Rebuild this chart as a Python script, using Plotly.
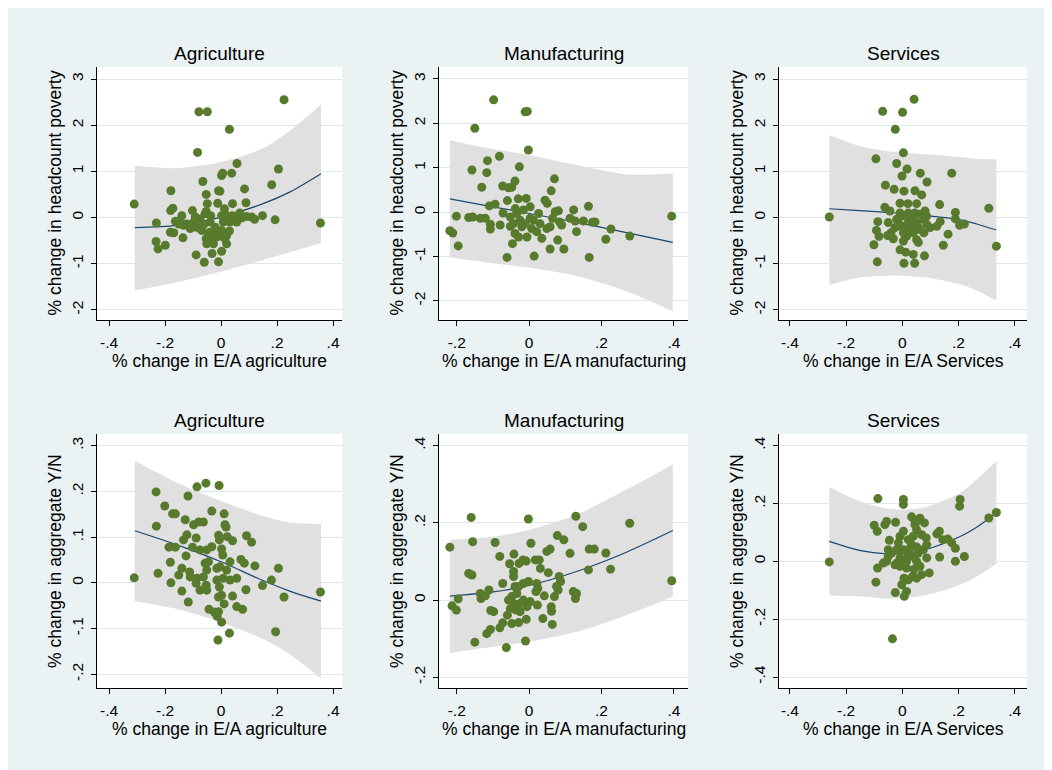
import plotly.graph_objects as go

# ---------------- data ----------------
agr_pov_x = [-0.310, 0.225, -0.079, -0.049, 0.030, -0.084, 0.057, 0.205, 0.006, 0.002, 0.038, -0.065, 0.181,
             -0.179, -0.009, -0.004, 0.084, -0.053, -0.049, -0.012, 0.041, 0.089, -0.180, -0.172, -0.102, -0.053,
             0.012, -0.140, -0.231, 0.193, 0.148, 0.120, 0.355, 0.067, 0.091, -0.163, -0.151, -0.181, -0.169,
             -0.136, -0.232, -0.225, -0.199, -0.089, -0.060, -0.032, -0.009, 0.002, 0.020, -0.051, -0.027, -0.045,
             -0.013, 0.014, 0.030, -0.110, -0.087, -0.063, -0.122, -0.098, -0.075, -0.039, -0.021, 0.002, -0.009,
             0.008, 0.020, 0.032, 0.044, 0.056, 0.073, 0.002, 0.014, -0.057, -0.037, -0.134, -0.146, -0.092,
             -0.069, -0.039, -0.021, 0.020, 0.040, 0.109, -0.053, -0.039]
agr_pov_y = [0.29, 2.55, 2.29, 2.29, 1.91, 1.41, 1.17, 1.05, 0.96, 0.91, 0.96, 0.78, 0.71,
             0.58, 0.58, 0.57, 0.62, 0.50, 0.30, 0.31, 0.30, 0.32, 0.15, 0.20, 0.15, 0.13,
             0.19, 0.04, -0.12, -0.05, 0.04, -0.04, -0.12, 0.10, 0.02, -0.08, -0.14, -0.32, -0.33,
             -0.44, -0.52, -0.68, -0.60, -0.81, -0.97, -0.78, -0.96, -0.73, -0.57, -0.57, -0.57, -0.39,
             -0.42, -0.46, -0.29, -0.24, -0.21, -0.17, -0.14, -0.10, -0.03, -0.10, -0.21, -0.28, -0.32,
             -0.10, -0.01, -0.10, -0.03, -0.10, -0.01, 0.04, 0.08, 0.08, 0.04, -0.17, -0.06, 0.01,
             -0.28, -0.32, -0.39, -0.39, 0.04, 0.01, -0.46, -0.50]

man_pov_x = [-0.098, -0.150, -0.011, -0.005, -0.002, -0.082, -0.115, -0.158, -0.117, -0.027, 0.070, -0.131,
             -0.073, -0.057, -0.048, -0.039, 0.061, -0.219, -0.211, -0.196, -0.201, -0.167, -0.156, -0.135,
             -0.121, -0.107, -0.107, -0.080, -0.110, -0.094, -0.060, -0.030, -0.008, -0.046, -0.061, 0.014,
             0.058, 0.096, 0.079, 0.166, 0.212, 0.226, 0.278, 0.394, 0.164, 0.123, 0.081, 0.044, 0.050,
             0.049, 0.065, 0.090, 0.084, 0.113, 0.127, 0.131, 0.150, 0.175, 0.182, 0.026, 0.030, 0.021,
             0.035, 0.007, -0.006, -0.029, -0.020, -0.043, -0.052, -0.034, -0.016, 0.003, 0.003, -0.025,
             -0.011, -0.038, -0.072, -0.052, -0.039, 0.012, 0.058, 0.072]
man_pov_y = [2.53, 1.89, 2.26, 2.27, 1.40, 1.26, 1.16, 0.95, 0.89, 1.02, 0.75, 0.56,
             0.59, 0.55, 0.56, 0.70, 0.48, -0.42, -0.47, -0.76, -0.09, -0.12, -0.11, -0.14,
             -0.14, -0.27, -0.38, -0.29, 0.14, 0.18, 0.26, 0.30, 0.31, -0.71, -1.02, -0.99,
             -0.83, -0.83, -0.63, -1.02, -0.61, -0.38, -0.54, -0.09, 0.13, 0.05, 0.03, 0.27, 0.20,
             -0.37, -0.14, -0.29, -0.22, -0.14, -0.20, -0.44, -0.20, -0.23, -0.22, -0.03, -0.26, -0.44,
             -0.59, -0.37, -0.56, -0.56, -0.33, -0.26, -0.11, -0.03, 0.05, 0.12, -0.14, -0.18,
             -0.26, 0.08, -0.02, -0.32, -0.48, -0.18, -0.33, 0.01]

ser_pov_x = [-0.260, 0.042, -0.070, 0.001, -0.025, 0.004, -0.094, -0.020, 0.017, -0.001, 0.064, 0.176, 0.088,
             -0.060, -0.029, 0.006, 0.045, 0.069, -0.008, 0.020, 0.051, 0.133, 0.308, -0.062, -0.044, 0.189,
             0.189, 0.135, 0.204, 0.221, 0.163, 0.146, 0.335, -0.087, -0.050, -0.092, -0.083, -0.101, -0.089,
             -0.052, -0.040, -0.032, -0.008, 0.012, 0.039, 0.006, 0.044, 0.079, 0.057, 0.051, 0.004, 0.015,
             0.081, -0.008, 0.004, 0.021, 0.039, 0.063, 0.075, 0.087, 0.099, 0.123, -0.014, -0.002, 0.015,
             0.033, 0.051, 0.063, 0.077, 0.039, 0.021, -0.026, 0.004, 0.027, 0.045, -0.020, 0.054, 0.087]
ser_pov_y = [0.01, 2.56, 2.30, 2.28, 1.91, 1.40, 1.27, 1.17, 1.05, 0.90, 0.96, 0.96, 0.77,
             0.70, 0.61, 0.57, 0.58, 0.49, 0.31, 0.30, 0.30, 0.28, 0.20, 0.22, 0.14, 0.11,
             -0.03, -0.09, -0.17, -0.14, -0.36, -0.60, -0.62, -0.09, -0.11, -0.28, -0.41, -0.59, -0.96,
             -0.39, -0.33, -0.46, -0.70, -0.75, -0.80, -0.99, -0.99, -0.83, -0.54, -0.48, -0.51, -0.41,
             0.14, 0.10, 0.03, 0.10, -0.01, 0.07, -0.04, -0.15, -0.22, -0.19, -0.12, -0.19, -0.26,
             -0.19, -0.12, -0.26, -0.33, -0.33, -0.12, -0.22, -0.33, -0.04, 0.10, -0.04, -0.19, 0.03]

agr_yn_x = [-0.310, 0.355, -0.232, -0.086, -0.054, -0.007, -0.118, -0.201, -0.173, -0.163, -0.033, 0.011,
            -0.231, -0.128, 0.014, 0.018, -0.098, -0.080, -0.063, -0.122, -0.134, -0.089, -0.009, -0.006,
            0.022, 0.041, 0.091, 0.109, -0.186, -0.163, -0.102, -0.075, -0.051, -0.033, 0.002, 0.006,
            -0.125, -0.181, -0.057, -0.045, 0.032, 0.071, 0.083, 0.121, 0.205, -0.140, -0.225, -0.151,
            -0.112, -0.110, -0.051, -0.015, -0.004, 0.020, -0.086, -0.063, -0.015, 0.008, 0.032, 0.056,
            -0.179, -0.140, -0.089, -0.075, -0.051, -0.053, -0.006, 0.002, -0.009, 0.041, 0.089, 0.148,
            0.180, 0.225, -0.117, 0.011, -0.043, -0.024, -0.009, -0.014, 0.002, 0.056, 0.077, 0.030,
            -0.011, 0.195]
agr_yn_y = [0.011, -0.020, 0.199, 0.210, 0.218, 0.213, 0.190, 0.168, 0.151, 0.151, 0.157, 0.151,
            0.124, 0.138, 0.127, 0.122, 0.127, 0.133, 0.133, 0.105, 0.094, 0.098, 0.104, 0.094,
            0.101, 0.092, 0.103, 0.089, 0.078, 0.078, 0.078, 0.072, 0.072, 0.079, 0.074, 0.061,
            0.059, 0.045, 0.043, 0.046, 0.046, 0.051, 0.043, 0.037, 0.032, 0.032, 0.021, 0.017,
            0.024, 0.013, 0.028, 0.032, 0.035, 0.028, 0.010, 0.013, 0.006, 0.010, 0.006, 0.010,
            0.000, -0.018, -0.001, -0.016, -0.016, -0.005, -0.009, -0.027, -0.031, -0.029, -0.015, -0.006,
            0.006, -0.031, -0.042, -0.046, -0.058, -0.064, -0.063, -0.073, -0.086, -0.052, -0.058, -0.110,
            -0.125, -0.107]

man_yn_x = [-0.219, -0.160, -0.156, -0.167, -0.158, -0.213, -0.201, -0.196, -0.150, -0.135, -0.133, -0.121,
            -0.111, -0.106, -0.098, -0.117, -0.107, -0.094, -0.081, -0.073, -0.081, -0.073, -0.063, -0.054,
            -0.042, -0.048, -0.029, -0.010, -0.008, -0.002, 0.005, -0.028, -0.017, -0.008, 0.017, 0.028,
            0.031, 0.053, 0.049, 0.058, 0.078, 0.096, 0.113, 0.129, 0.148, 0.166, 0.180, 0.164, 0.212,
            0.225, 0.278, 0.394, 0.083, 0.087, 0.076, 0.080, 0.070, 0.122, 0.131, 0.128, 0.061, 0.062,
            0.064, 0.038, 0.042, 0.021, 0.024, 0.019, 0.023, 0.003, -0.002, -0.016, -0.029, -0.039,
            -0.034, -0.048, -0.057, -0.043, -0.025, -0.016, -0.052, -0.036, -0.025, -0.006, -0.060,
            -0.043, -0.043]
man_yn_y = [0.137, 0.214, 0.151, 0.069, 0.065, -0.015, -0.026, 0.003, -0.109, 0.017, 0.004, 0.011,
            0.026, -0.027, -0.030, -0.087, -0.076, 0.149, 0.113, 0.043, -0.072, -0.059, -0.123, 0.094,
            0.119, -0.061, -0.058, -0.106, -0.050, 0.210, 0.147, 0.095, 0.104, 0.101, 0.104, 0.104,
            0.082, 0.071, 0.126, 0.132, 0.167, 0.156, 0.121, 0.217, 0.190, 0.132, 0.132, 0.078, 0.122,
            0.080, 0.199, 0.050, 0.061, 0.048, 0.035, 0.026, 0.009, 0.022, 0.017, 0.004, -0.017, -0.029,
            -0.063, -0.048, 0.011, 0.043, 0.030, 0.022, -0.013, -0.004, 0.048, 0.043, 0.035, 0.035,
            0.017, 0.009, 0.000, -0.009, -0.009, 0.000, -0.022, -0.026, -0.030, -0.017, -0.039,
            0.061, 0.074]

ser_yn_x = [-0.260, -0.035, -0.087, 0.004, 0.004, 0.206, 0.204, 0.308, 0.335, -0.100, -0.089, -0.056, -0.062,
            -0.024, -0.046, 0.033, 0.042, 0.063, 0.079, 0.123, 0.132, 0.144, 0.162, 0.176, 0.189, 0.133,
            0.189, 0.221, -0.088, -0.094, -0.025, 0.015, 0.007, -0.002, 0.006, 0.021, 0.037, 0.051, 0.069,
            0.096, 0.063, 0.042, 0.015, -0.008, -0.026, -0.056, -0.068, -0.050, -0.038, -0.050, -0.020,
            0.004, 0.027, -0.008, 0.004, 0.021, 0.039, 0.051, 0.069, 0.085, 0.087, 0.045, 0.051, -0.008,
            0.010, 0.021, 0.039, 0.057, 0.075, 0.087, 0.051, 0.033, -0.014, 0.015, -0.020, 0.051]
ser_yn_y = [-0.002, -0.268, 0.217, 0.214, 0.197, 0.214, 0.191, 0.150, 0.169, 0.125, 0.104, 0.138, 0.127,
            0.135, 0.073, 0.154, 0.145, 0.149, 0.133, 0.095, 0.104, 0.075, 0.077, 0.064, 0.045, 0.015,
            0.000, 0.017, -0.023, -0.072, -0.108, -0.104, -0.121, -0.081, -0.058, -0.064, -0.052, -0.058, -0.046,
            -0.040, -0.017, -0.027, -0.023, -0.017, -0.012, 0.000, -0.006, 0.017, 0.029, 0.040, 0.040,
            0.040, 0.046, 0.087, 0.104, 0.075, 0.087, 0.110, 0.092, 0.081, 0.058, 0.127, 0.139, 0.012,
            0.006, 0.023, 0.017, 0.029, 0.040, 0.012, 0.050, 0.058, 0.064, 0.000, -0.006, 0.000]

# quadratic fit lines and 95% bands
agr_fit_x = [-0.308, -0.157, 0.0, 0.15, 0.245, 0.357]
agr_pov_fit = [-0.22, -0.17, 0.01, 0.30, 0.55, 0.95]
agr_pov_hi = [1.12, 1.07, 1.20, 1.50, 1.88, 2.45]
agr_pov_lo = [-1.58, -1.40, -1.17, -0.92, -0.75, -0.55]
agr_yn_fit = [0.114, 0.083, 0.046, 0.005, -0.018, -0.040]
agr_yn_hi = [0.267, 0.219, 0.179, 0.146, 0.132, 0.129]
agr_yn_lo = [-0.040, -0.057, -0.086, -0.123, -0.156, -0.209]

man_fit_x = [-0.219, -0.1, 0.0, 0.131, 0.269, 0.397]
man_pov_fit = [0.30, 0.12, -0.03, -0.23, -0.46, -0.68]
man_pov_hi = [1.62, 1.42, 1.29, 1.06, 0.85, 0.87]
man_pov_lo = [-1.02, -1.15, -1.25, -1.44, -1.78, -2.23]
man_yn_fit = [0.010, 0.021, 0.038, 0.074, 0.124, 0.180]
man_yn_hi = [0.156, 0.164, 0.182, 0.221, 0.286, 0.351]
man_yn_lo = [-0.137, -0.121, -0.108, -0.082, -0.039, 0.009]

ser_fit_x = [-0.260, -0.152, -0.056, 0.0, 0.087, 0.206, 0.265, 0.335]
ser_pov_fit = [0.19, 0.15, 0.11, 0.09, 0.04, -0.05, -0.14, -0.27]
ser_pov_hi = [1.78, 1.55, 1.44, 1.41, 1.37, 1.31, 1.27, 1.26]
ser_pov_lo = [-1.46, -1.30, -1.26, -1.26, -1.30, -1.45, -1.58, -1.80]
ser_yn_fit = [0.069, 0.038, 0.026, 0.027, 0.042, 0.086, 0.118, 0.168]
ser_yn_hi = [0.257, 0.208, 0.183, 0.179, 0.188, 0.237, 0.283, 0.347]
ser_yn_lo = [-0.118, -0.121, -0.129, -0.127, -0.116, -0.081, -0.052, -0.008]

col_titles = ["Agriculture", "Manufacturing", "Services"]
x_titles = ["% change in E/A agriculture", "% change in E/A manufacturing", "% change in E/A Services"]
y_titles = ["% change in headcount poverty", "% change in aggregate Y/N"]

x_ticks = [[-0.4, -0.2, 0, 0.2, 0.4], [-0.2, 0, 0.2, 0.4], [-0.4, -0.2, 0, 0.2, 0.4]]
x_ticktext = [["-.4", "-.2", "0", ".2", ".4"], ["-.2", "0", ".2", ".4"], ["-.4", "-.2", "0", ".2", ".4"]]
y_ticks = [[-2, -1, 0, 1, 2, 3], [-2, -1, 0, 1, 2, 3], [-2, -1, 0, 1, 2, 3],
           [-0.2, -0.1, 0, 0.1, 0.2, 0.3], [-0.2, 0, 0.2, 0.4], [-0.4, -0.2, 0, 0.2, 0.4]]
y_ticktext = [["-2", "-1", "0", "1", "2", "3"], ["-2", "-1", "0", "1", "2", "3"], ["-2", "-1", "0", "1", "2", "3"],
              ["-.2", "-.1", "0", ".1", ".2", ".3"], ["-.2", "0", ".2", ".4"], ["-.4", "-.2", "0", ".2", ".4"]]

# ---------------- styling / layout ----------------
OX, OY = 8, 8                      # page body margin of the browser
W, H = 1052 - OX, 770 - OY
FONT = "Liberation Sans, Arial, sans-serif"
BG = "#EAF2F3"
GRID = "#DDE8EB"
MARK = "#587A2D"
LINE = "#1A476F"
BAND = "#E0E0E0"

col_px = [(97, 342), (439, 688), (779, 1027)]   # screen pixels
row_px = [(67, 320), (434, 688)]
x_ranges = [[-0.443, 0.432], [-0.249, 0.439], [-0.439, 0.444]]
y_ranges = [[-2.22, 3.26], [-2.43, 3.27], [-2.22, 3.26],
            [-0.230, 0.3256], [-0.2277, 0.430], [-0.438, 0.4405]]


def fx_(px):
    return (px - OX) / W


def fy_(py):
    return 1 - (py - OY) / H


panels = [
    (agr_pov_x, agr_pov_y, agr_fit_x, agr_pov_fit, agr_pov_lo, agr_pov_hi),
    (man_pov_x, man_pov_y, man_fit_x, man_pov_fit, man_pov_lo, man_pov_hi),
    (ser_pov_x, ser_pov_y, ser_fit_x, ser_pov_fit, ser_pov_lo, ser_pov_hi),
    (agr_yn_x, agr_yn_y, agr_fit_x, agr_yn_fit, agr_yn_lo, agr_yn_hi),
    (man_yn_x, man_yn_y, man_fit_x, man_yn_fit, man_yn_lo, man_yn_hi),
    (ser_yn_x, ser_yn_y, ser_fit_x, ser_yn_fit, ser_yn_lo, ser_yn_hi),
]

fig = go.Figure()
layout = dict(
    width=W, height=H, margin=dict(l=0, r=0, t=0, b=0),
    paper_bgcolor=BG, plot_bgcolor="#FFFFFF", showlegend=False,
    font=dict(family=FONT, color="black", size=16),
    annotations=[],
)

for k, (px, py, fx, fy, flo, fhi) in enumerate(panels):
    r, c = divmod(k, 3)
    sfx = "" if k == 0 else str(k + 1)
    xa, ya = "x" + sfx, "y" + sfx
    # confidence band: lower edge, then upper edge filled down to it
    fig.add_trace(go.Scatter(x=fx, y=flo, xaxis=xa, yaxis=ya, mode="lines",
                             line=dict(width=0, color=BAND, shape="spline", smoothing=0.8),
                             hoverinfo="skip"))
    fig.add_trace(go.Scatter(x=fx, y=fhi, xaxis=xa, yaxis=ya, mode="lines", fill="tonexty",
                             fillcolor=BAND, line=dict(width=0, color=BAND, shape="spline", smoothing=0.8),
                             hoverinfo="skip"))
    fig.add_trace(go.Scatter(x=fx, y=fy, xaxis=xa, yaxis=ya, mode="lines",
                             line=dict(color=LINE, width=1.2, shape="spline", smoothing=0.8)))
    fig.add_trace(go.Scatter(x=px, y=py, xaxis=xa, yaxis=ya, mode="markers",
                             marker=dict(color=MARK, size=9, line=dict(width=0))))

    l, rr = col_px[c]
    t, b = row_px[r]
    layout["xaxis" + sfx] = dict(
        domain=[fx_(l), fx_(rr)], anchor=ya, range=x_ranges[c],
        tickvals=x_ticks[c], ticktext=x_ticktext[c], ticks="outside", ticklen=5, tickwidth=1,
        tickcolor="black", showline=True, linecolor="black", linewidth=1, showgrid=False,
        zeroline=False, tickfont=dict(size=15.5, family=FONT, color="black"), ticklabelstandoff=3,
        fixedrange=True)
    layout["yaxis" + sfx] = dict(
        domain=[fy_(b), fy_(t)], anchor=xa, range=y_ranges[k],
        tickvals=y_ticks[k], ticktext=y_ticktext[k], ticks="outside", ticklen=5, tickwidth=1,
        tickcolor="black", showline=True, linecolor="black", linewidth=1, showgrid=True,
        gridcolor=GRID, gridwidth=1, zeroline=False, tickangle=-90,
        tickfont=dict(size=15.5, family=FONT, color="black"), ticklabelstandoff=2, fixedrange=True)

    cx = (l + rr) / 2
    cy = (t + b) / 2
    # column title
    layout["annotations"].append(dict(
        text=col_titles[c], xref="paper", yref="paper", x=fx_(cx), y=fy_(t - 13.5),
        xanchor="center", yanchor="middle", showarrow=False, font=dict(size=19, family=FONT)))
    # x title
    layout["annotations"].append(dict(
        text=x_titles[c], xref="paper", yref="paper", x=fx_(cx), y=fy_(b + 41),
        xanchor="center", yanchor="middle", showarrow=False, font=dict(size=17.5, family=FONT)))
    # y title
    layout["annotations"].append(dict(
        text=y_titles[r], xref="paper", yref="paper", x=fx_(l - 42), y=fy_(cy),
        xanchor="center", yanchor="middle", textangle=-90, showarrow=False,
        font=dict(size=17.5, family=FONT)))

fig.update_layout(**layout)
fig.write_html("out.html")
